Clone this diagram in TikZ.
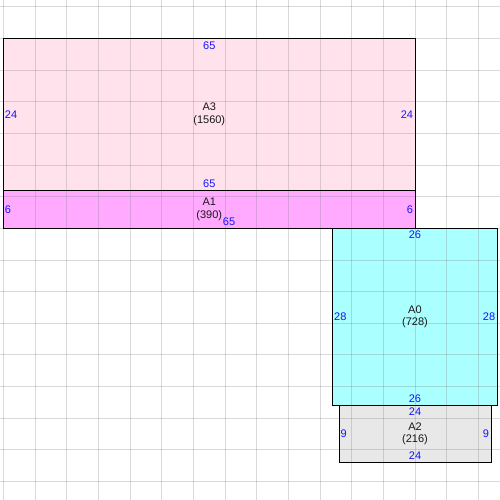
\documentclass[tikz,border=0pt]{standalone}
\usepackage{fontspec}
\setmainfont{Liberation Sans}
\definecolor{gridc}{RGB}{130,130,130}
\definecolor{fA3}{RGB}{255,226,236}
\definecolor{fA1}{RGB}{255,170,255}
\definecolor{fA0}{RGB}{170,255,255}
\definecolor{fA2}{RGB}{232,232,232}
\definecolor{lblc}{RGB}{20,20,255}
\begin{document}
\begin{tikzpicture}[x=1pt,y=-1pt,
  box/.style={draw=black,line width=1pt,inner sep=0pt,outer sep=0pt,align=center,
    font=\fontsize{11}{12.5}\selectfont,text=black!90},
  lbl/.style={inner sep=0pt,outer sep=0pt,text=lblc,font=\fontsize{11}{12.5}\selectfont},
  gridline/.style={draw=gridc,draw opacity=0.3,line width=0.9pt}]
\useasboundingbox (0,0) rectangle (500,500);
\fill[white] (0,0) rectangle (500,500);
% box fills first
\node[box,draw=none,fill=fA3,minimum width=411.5pt,minimum height=151.9pt] (A3f) at (209.25,114.35) {};
\node[box,draw=none,fill=fA1,minimum width=411.5pt,minimum height=38pt] (A1f) at (209.25,209.3) {};
\node[box,draw=none,fill=fA0,minimum width=164.5pt,minimum height=177.2pt] (A0f) at (414.95,316.9) {};
\node[box,draw=none,fill=fA2,minimum width=152pt,minimum height=57pt] (A2f) at (415,434) {};
% grid
\foreach \k in {0,...,15}{
  \draw[gridline] ({3.5+31.65*\k},0) -- ({3.5+31.65*\k},500);
  \draw[gridline] (0,{6.75+31.65*\k}) -- (500,{6.75+31.65*\k});
}
% outlines and centre labels
\node[box,minimum width=411.5pt,minimum height=151.9pt] (A3) at (209.25,114.35) {A3\\(1560)};
\node[box,minimum width=411.5pt,minimum height=38pt] (A1) at (209.25,209.3) {A1\\(390)};
\node[box,minimum width=164.5pt,minimum height=177.2pt] (A0) at (414.95,316.9) {A0\\(728)};
\node[box,minimum width=152pt,minimum height=57pt] (A2) at (415,434) {A2\\(216)};
% A3 labels
\node[lbl] (A3t) at ([yshift=-6.9pt]A3.north) {65};
\node[lbl] (A3b) at ([yshift=6.8pt]A3.south) {65};
\node[lbl,anchor=west] (A3l) at ([xshift=1.5pt]A3.west) {24};
\node[lbl,anchor=east] (A3r) at ([xshift=-2pt]A3.east) {24};
% A1 labels
\node[lbl,anchor=west] (A1l) at ([xshift=1.5pt]A1.west) {6};
\node[lbl,anchor=east] (A1r) at ([xshift=-2pt]A1.east) {6};
\node[lbl] (A1b) at (229,222) {65};
% A0 labels
\node[lbl] (A0t) at ([yshift=-6.4pt]A0.north) {26};
\node[lbl] (A0b) at ([yshift=6.5pt]A0.south) {26};
\node[lbl,anchor=west] (A0l) at ([xshift=1.5pt]A0.west) {28};
\node[lbl,anchor=east] (A0r) at ([xshift=-2pt]A0.east) {28};
% A2 labels
\node[lbl] (A2t) at ([yshift=-6.5pt]A2.north) {24};
\node[lbl] (A2b) at ([yshift=6.5pt]A2.south) {24};
\node[lbl,anchor=west] (A2l) at ([xshift=1.7pt]A2.west) {9};
\node[lbl,anchor=east] (A2r) at ([xshift=-2pt]A2.east) {9};
\end{tikzpicture}
\end{document}
